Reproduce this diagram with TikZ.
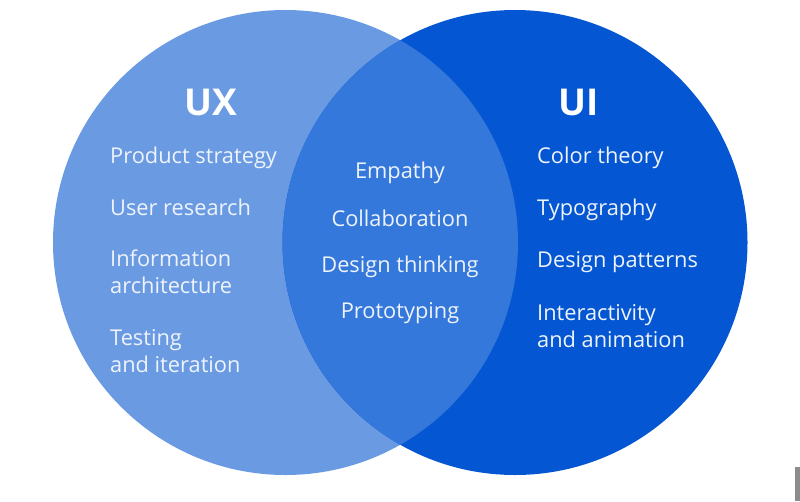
\documentclass[tikz,border=0pt]{standalone}
\usepackage{fontspec}
\setmainfont{Open Sans}
\usepackage{xcolor}
\usepackage{tikz}
\usetikzlibrary{positioning}
\definecolor{uxblue}{HTML}{6A9BE2}
\definecolor{uiblue}{HTML}{0456D3}
\definecolor{midblue}{HTML}{3578DB}
\definecolor{itemwhite}{HTML}{EEF3FC}
\tikzset{
  vennset/.style={circle, inner sep=0pt, minimum size=465pt},
  vennhead/.style={text=white, font=\fontsize{37}{40}\selectfont\bfseries, inner sep=0pt, anchor=base},
  vennitem/.style={text=itemwhite, font=\fontsize{21.8}{26.5}\selectfont, inner sep=0pt, align=left, anchor=base west},
  venncore/.style={text=itemwhite, font=\fontsize{21.8}{26.5}\selectfont, inner sep=0pt, anchor=base}
}
\begin{document}
\begin{tikzpicture}[x=1pt,y=-1pt]
\useasboundingbox (0,0) rectangle (800,501);

\node[vennset, fill=uxblue] (ux) at (285.5,242.5) {};
\node[vennset, fill=uiblue] (ui) at (515,242.5) {};
\begin{scope}
  \clip (ux.center) circle[radius=232.5pt];
  \fill[midblue] (ui.center) circle[radius=232.5pt];
\end{scope}

% UX side
\node[vennhead] (uxtitle) at (211,115) {UX};
\node[vennitem] (strategy) at (110,163) {Product strategy};
\node[vennitem] (research) at (110,215) {User research};
\node[vennitem] (infoarch) at (110,293) {Information\\architecture};
\node[vennitem] (testing) at (110,372) {Testing\\and iteration};

% shared
\node[venncore] (empathy) at (400,178) {Empathy};
\node[venncore] (collab) at (400,226) {Collaboration};
\node[venncore] (thinking) at (400,272) {Design thinking};
\node[venncore] (proto) at (400,318) {Prototyping};

% UI side
\node[vennhead] (uititle) at (579,115) {UI};
\node[vennitem] (colortheory) at (537,163) {Color theory};
\node[vennitem] (typo) at (537,215) {Typography};
\node[vennitem] (patterns) at (537,267) {Design patterns};
\node[vennitem] (interact) at (537,347) {Interactivity\\and animation};

\fill[gray!90] (795,467) rectangle (800,501);
\end{tikzpicture}
\end{document}
